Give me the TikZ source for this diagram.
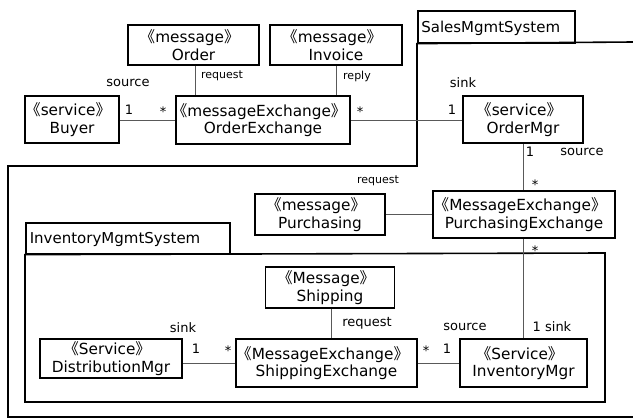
\documentclass[tikz,border=0pt]{standalone}
\usepackage{fontspec}
\setmainfont{DejaVu Sans}
\newfontfamily\cjk{Noto Sans CJK SC}
\newcommand\lgm{\hspace{-0.5em}{\cjk 《}}
\newcommand\rgm{{\cjk 》}\hspace{-0.5em}}
\begin{document}
\begin{tikzpicture}[x=1pt,y=-1pt,
  box/.style={draw=black,line width=1.6pt,inner sep=0pt,align=center,
    font=\fontsize{15.3}{17.5}\selectfont},
  tab/.style={draw=black,line width=1.6pt,inner sep=0pt,anchor=north west,
    text depth=0pt,font=\fontsize{15}{17}\selectfont},
  frame/.style={draw=black,line width=1.6pt},
  conn/.style={draw=black!65,line width=1pt},
  role/.style={inner sep=0pt,font=\fontsize{13}{15}\selectfont},
  small/.style={inner sep=0pt,font=\fontsize{11}{13}\selectfont}]
\useasboundingbox (0,0) rectangle (633,418);
\fill[white] (0,0) rectangle (633,418);
% frames
\node[tab,minimum width=157pt,minimum height=32pt,text width=150pt] (salestab) at (417,10) {SalesMgmtSystem};
\draw[frame] (633,42) -- (salestab.south west) -- (417,166) -- (8,166) -- (8,417) -- (633,417);
\node[tab,minimum width=204pt,minimum height=31pt,text width=196pt] (invtab) at (25,222) {InventoryMgmtSystem};
\draw[frame] (invtab.south west) -- (605,253) -- (605,402) -- (25,402) -- cycle;
% boxes
\node[box,minimum width=131pt,minimum height=40pt] (order) at (193.5,45) {\lgm message\rgm\\Order};
\node[box,minimum width=132pt,minimum height=40pt] (invoice) at (336,45) {\lgm message\rgm\\Invoice};
\node[box,minimum width=94pt,minimum height=47pt] (buyer) at (72,119.5) {\lgm service\rgm\\Buyer};
\node[box,minimum width=174pt,minimum height=48pt] (oex) at (263,120) {\lgm messageExchange\rgm\\OrderExchange};
\node[box,minimum width=120pt,minimum height=47pt] (omgr) at (523,119.5) {\lgm service\rgm\\OrderMgr};
\node[box,minimum width=182pt,minimum height=47pt] (pex) at (524,214.5) {\lgm MessageExchange\rgm\\PurchasingExchange};
\node[box,minimum width=130pt,minimum height=41pt] (purch) at (320,214.5) {\lgm message\rgm\\Purchasing};
\node[box,minimum width=129pt,minimum height=41pt] (ship) at (330,287.5) {\lgm Message\rgm\\Shipping};
\node[box,minimum width=142pt,minimum height=39pt] (dmgr) at (111,358.5) {\lgm Service\rgm\\DistributionMgr};
\node[box,minimum width=181pt,minimum height=48pt] (sex) at (326.5,363) {\lgm MessageExchange\rgm\\ShippingExchange};
\node[box,minimum width=127pt,minimum height=48pt] (imgr) at (523.5,363) {\lgm Service\rgm\\InventoryMgr};
% connectors
\draw[conn] (buyer.east |- 0,120) -- (oex.west |- 0,120);
\draw[conn] (oex.east |- 0,120) -- (omgr.west |- 0,120);
\draw[conn] (order.south -| 195,0) -- (oex.north -| 195,0);
\draw[conn] (invoice.south) -- (oex.north -| invoice.south);
\draw[conn] (omgr.south) -- (pex.north -| omgr.south);
\draw[conn] (purch.east) -- (pex.west |- purch.east);
\draw[conn] (pex.south -| imgr.north) -- (imgr.north);
\draw[conn] (ship.south -| 331,0) -- (sex.north -| 331,0);
\draw[conn] (dmgr.east |- sex.west) -- (sex.west);
\draw[conn] (sex.east) -- (imgr.west);
% labels
\node[role] (l1) at (128,83) {source};
\node[role] (l2) at (129,110) {1};
\node[role] (l3) at (163,112) {*};
\node[small] (l4) at (222,76) {request};
\node[small] (l5) at (357,76) {reply};
\node[role] (l6) at (360,112) {*};
\node[role] (l7) at (463,83) {sink};
\node[role] (l8) at (452,110) {1};
\node[role] (l9) at (530,152) {1};
\node[role] (l10) at (582,152) {source};
\node[role] (l11) at (535,185) {*};
\node[small] (l12) at (378,181) {request};
\node[role] (l13) at (535,251) {*};
\node[role] (l14) at (183,328) {sink};
\node[role] (l15) at (196,349) {1};
\node[role] (l16) at (228,351) {*};
\node[role] (l17) at (367,323) {request};
\node[role] (l18) at (465,327) {source};
\node[role] (l19) at (552,327) {1 sink};
\node[role] (l20) at (426,351) {*};
\node[role] (l21) at (447,349) {1};
\end{tikzpicture}
\end{document}
